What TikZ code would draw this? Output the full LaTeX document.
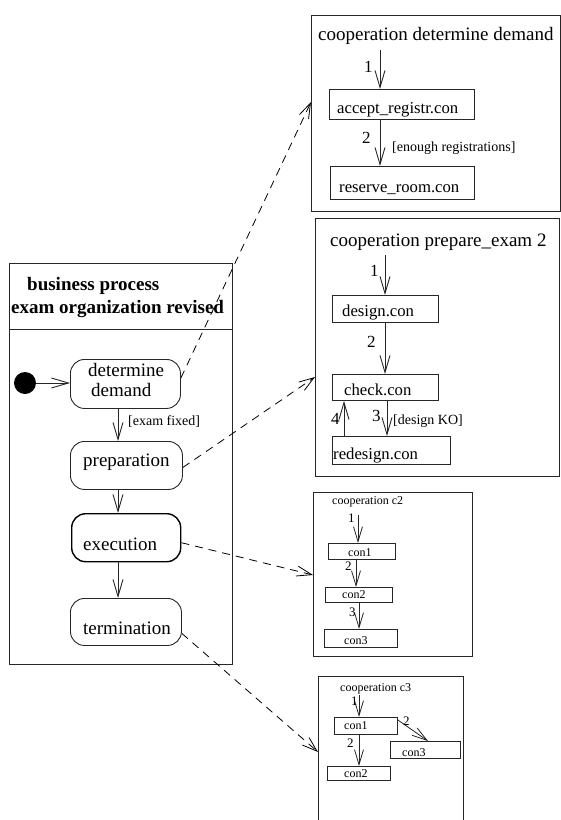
\documentclass[tikz,border=0pt]{standalone}
\usepackage{fontspec}
\setmainfont{Liberation Serif}
\usetikzlibrary{arrows.meta,calc}

\newcommand\fbig{\fontsize{19}{22}\selectfont}
\newcommand\fmid{\fontsize{16.7}{20}\selectfont}
\newcommand\fnum{\fontsize{17}{20}\selectfont}
\newcommand\fguard{\fontsize{14}{16}\selectfont}
\newcommand\fsmall{\fontsize{12}{14}\selectfont}
\newcommand\fsnum{\fontsize{13}{15}\selectfont}

\begin{document}
\begin{tikzpicture}[x=1pt,y=-1pt,
  frame/.style={draw=black!85, line width=0.9pt, inner sep=0pt, anchor=north west},
  state/.style={draw=black!85, rounded corners=14pt, line width=0.9pt, inner sep=0pt, anchor=north west},
  conbox/.style={draw=black!85, line width=0.9pt, inner sep=0pt, anchor=north west},
  txt/.style={anchor=base west, inner sep=0pt},
  flow/.style={-{Straight Barb[length=17pt,width=10pt]}, line width=0.9pt, draw=black!85},
  sflow/.style={-{Straight Barb[length=15pt,width=9pt]}, line width=0.8pt, draw=black!85},
  link/.style={dash pattern=on 8pt off 6pt, -{Straight Barb[length=15pt,width=10pt]}, line width=0.8pt}]
\useasboundingbox (0,0) rectangle (561,820);

% ---------- business process ----------
\node[frame, minimum width=223pt, minimum height=401pt] (bp) at (9,263) {};
\draw[line width=0.9pt, black!85] ($(bp.north west)+(0,66)$) -- ($(bp.north east)+(0,66)$);
\node[txt, font=\fbig\bfseries] (bpt1) at (27,290) {business process};
\node[txt, font=\fbig\bfseries] (bpt2) at (11,313) {exam organization revised};

\node[circle, fill=black, minimum size=22pt, inner sep=0pt] (init) at (25,383) {};

\node[state, minimum width=110pt, minimum height=49pt] (det) at (70,359) {};
\node[state, minimum width=112pt, minimum height=48pt] (prep) at (70,441) {};
\node[state, minimum width=109pt, minimum height=48pt, line width=1.4pt, draw=black] (exec) at (71,513) {};
\node[state, minimum width=111pt, minimum height=47pt] (term) at (70,598) {};

\node[txt, font=\fbig] (detA) at (88,376.7) {determine};
\node[txt, font=\fbig] (detB) at (91,396.7) {demand};
\node[txt, font=\fbig] (prepT) at (83,466) {preparation};
\node[txt, font=\fbig] (execT) at (83,550) {execution};
\node[txt, font=\fbig] (termT) at (83,634) {termination};

\coordinate (ax) at (118,0);
\draw[flow] (init) -- (init -| det.west);
\draw[flow] (det.south -| ax) -- (prep.north -| ax);
\draw[flow] (prep.south -| ax) -- (exec.north -| ax);
\draw[flow] (exec.south -| ax) -- (term.north -| ax);
\node[txt, font=\fguard] (g1) at (128,425.7) {[exam fixed]};

% ---------- cooperation determine demand ----------
\node[frame, minimum width=249pt, minimum height=196pt] (c1) at (311,15) {};
\node[txt, font=\fbig] (c1t) at (318,40) {cooperation determine demand};
\node[conbox, minimum width=145pt, minimum height=30pt] (acc) at (329,89) {};
\node[conbox, minimum width=144pt, minimum height=33pt] (res) at (330,166) {};
\node[txt, font=\fmid] (accT) at (337,113) {accept\_registr.con};
\node[txt, font=\fmid] (resT) at (339,192) {reserve\_room.con};
\coordinate (s1) at (380,50);
\draw[flow] (s1) -- (s1 |- acc.north);
\draw[flow] (acc.south -| s1) -- (res.north -| s1);
\node[txt, font=\fnum] (n11) at (364,72) {1};
\node[txt, font=\fnum] (n12) at (362,143) {2};
\node[txt, font=\fguard] (g2) at (392,151) {[enough registrations]};

% ---------- cooperation prepare_exam 2 ----------
\node[frame, minimum width=244pt, minimum height=258pt] (c2) at (315,218) {};
\node[txt, font=\fbig] (c2t) at (330,246) {cooperation prepare\_exam 2};
\node[conbox, minimum width=106pt, minimum height=27pt] (des) at (332,295) {};
\node[conbox, minimum width=106pt, minimum height=26pt] (chk) at (332,374) {};
\node[conbox, minimum width=118pt, minimum height=28pt] (red) at (332,436) {};
\node[txt, font=\fmid] (desT) at (342,316) {design.con};
\node[txt, font=\fmid] (chkT) at (344,395) {check.con};
\node[txt, font=\fmid] (redT) at (333,459) {redesign.con};
\coordinate (s2) at (385,255);
\coordinate (x3) at (387,0);
\coordinate (x4) at (344,0);
\draw[flow] (s2) -- (s2 |- des.north);
\draw[flow] (des.south -| s2) -- (chk.north -| s2);
\draw[flow] (chk.south -| x3) -- (red.north -| x3);
\draw[flow] (red.north -| x4) -- (chk.south -| x4);
\node[txt, font=\fnum] (n21) at (370,276) {1};
\node[txt, font=\fnum] (n22) at (367,347) {2};
\node[txt, font=\fnum] (n23) at (372,421) {3};
\node[txt, font=\fnum] (n24) at (331,424) {4};
\node[txt, font=\fguard] (g3) at (393,424) {[design KO]};

% ---------- cooperation c2 ----------
\node[frame, minimum width=159pt, minimum height=164pt] (c3) at (313,492) {};
\node[txt, font=\fsmall] (c3t) at (332,504) {cooperation c2};
\node[conbox, minimum width=67pt, minimum height=16pt] (a1) at (328,543) {};
\node[conbox, minimum width=67pt, minimum height=15pt] (a2) at (325,587) {};
\node[conbox, minimum width=73pt, minimum height=18pt] (a3) at (324,629) {};
\node[txt, font=\fsmall] (a1T) at (348,556) {con1};
\node[txt, font=\fsmall] (a2T) at (342,598) {con2};
\node[txt, font=\fsmall] (a3T) at (344,644) {con3};
\coordinate (s3) at (358,515);
\coordinate (y2) at (356,0);
\coordinate (y3) at (359,0);
\draw[sflow] (s3) -- (s3 |- a1.north);
\draw[sflow] (a1.south -| y2) -- (a2.north -| y2);
\draw[sflow] (a2.south -| y3) -- (a3.north -| y3);
\node[txt, font=\fsnum] (n31) at (348,522) {1};
\node[txt, font=\fsnum] (n32) at (345,570) {2};
\node[txt, font=\fsnum] (n33) at (349,616) {3};

% ---------- cooperation c3 (runs past the lower edge) ----------
\node[inner sep=0pt, minimum width=145pt, minimum height=150pt, anchor=north west] (c4) at (318,676) {};
\draw[line width=0.9pt, black!85] (c4.south west) -- (c4.north west) -- (c4.north east) -- (c4.south east);
\node[txt, font=\fsmall] (c4t) at (340,691) {cooperation c3};
\node[conbox, minimum width=63pt, minimum height=17pt] (b1) at (334,717) {};
\node[conbox, minimum width=63pt, minimum height=14pt] (b2) at (327,766) {};
\node[conbox, minimum width=70pt, minimum height=17pt] (b3) at (390,741) {};
\node[txt, font=\fsmall] (b1T) at (344,729) {con1};
\node[txt, font=\fsmall] (b2T) at (344,777) {con2};
\node[txt, font=\fsmall] (b3T) at (402,756) {con3};
\coordinate (s4) at (359,695);
\draw[sflow] (s4) -- (s4 |- b1.north);
\draw[sflow] (b1.south -| s4) -- (b2.north -| s4);
\draw[sflow] ($(b1.north east)+(0,3)$) -- ($(b3.north west)+(38,0)$);
\node[txt, font=\fsnum] (n41) at (351,705) {1};
\node[txt, font=\fsnum] (n42) at (347,747) {2};
\node[txt, font=\fsnum] (n43) at (403,725) {2};

% ---------- refinement links ----------
\draw[link] ($(det.east)+(0,-6)$) -- ($(c1.north west)+(0,87)$);
\draw[link] ($(prep.east)+(0,2)$) -- ($(c2.north west)+(0,159)$);
\draw[link] ($(exec.east)+(0,5)$) -- ($(c3.north west)+(0,83)$);
\draw[link] ($(term.east)+(0,11.5)$) -- ($(c4.north west)+(0,76)$);
\end{tikzpicture}
\end{document}
